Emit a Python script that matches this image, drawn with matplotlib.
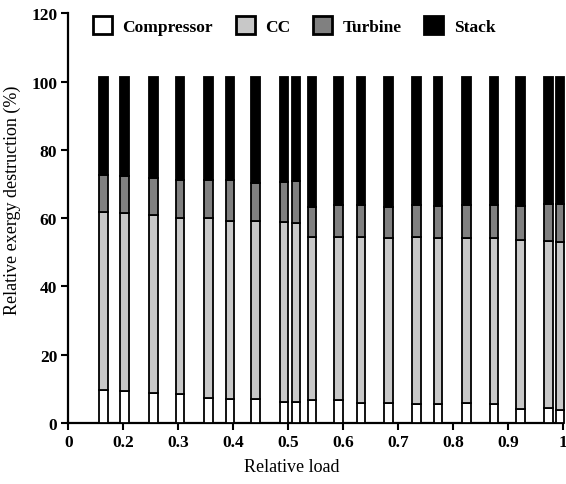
import matplotlib
matplotlib.use("Agg")
import matplotlib.pyplot as plt
from matplotlib.patches import Patch

# relative load of each operating point
loads = [0.164, 0.202, 0.255, 0.303, 0.355, 0.394, 0.440, 0.492, 0.514, 0.5435,
         0.591, 0.632, 0.6825, 0.733, 0.772, 0.824, 0.874, 0.922, 0.973, 0.994]

# relative exergy destruction (%) of each component
compressor = [9.8, 9.5, 8.7, 8.4, 7.2, 7.0, 7.0, 6.2, 6.1, 6.6,
              6.6, 6.0, 5.9, 5.7, 5.7, 5.9, 5.7, 4.0, 4.4, 3.8]
cc = [51.9, 51.9, 52.1, 51.7, 52.9, 52.3, 52.3, 52.8, 52.6, 48.0,
      47.8, 48.6, 48.2, 48.7, 48.4, 48.2, 48.6, 49.6, 49.0, 49.1]
turbine = [11.0, 11.0, 11.0, 11.1, 11.1, 11.9, 11.0, 11.6, 12.2, 8.8,
           9.6, 9.4, 9.3, 9.6, 9.6, 9.9, 9.7, 10.1, 10.9, 11.4]
stack = [28.6, 28.9, 29.5, 30.1, 30.1, 30.1, 31.0, 30.7, 30.4, 37.9,
         37.3, 37.3, 37.9, 37.3, 37.6, 37.3, 37.3, 37.6, 37.0, 37.0]

series = [("Compressor", compressor, "white"),
          ("CC", cc, "#c8c8c8"),
          ("Turbine", turbine, "#808080"),
          ("Stack", stack, "black")]

xticks = [0.1, 0.2, 0.3, 0.4, 0.5, 0.6, 0.7, 0.8, 0.9, 1.0]
xticklabels = ["0", "0.2", "0.3", "0.4", "0.5", "0.6", "0.7", "0.8", "0.9", "1"]
yticks = [0, 20, 40, 60, 80, 100, 120]

plt.rcParams["font.family"] = ["Liberation Serif", "DejaVu Serif"]

fig = plt.figure(figsize=(5.66, 4.85), dpi=100)
ax = fig.add_axes([0.1207, 0.1258, 0.8745, 0.8445])

bottom = [0.0] * len(loads)
handles = []
for name, vals, color in series:
    ax.bar(loads, vals, width=0.0155, bottom=bottom, color=color,
           edgecolor="black", linewidth=1.3, clip_on=False, zorder=3)
    bottom = [b + v for b, v in zip(bottom, vals)]
    handles.append(Patch(facecolor=color, edgecolor="black", linewidth=2, label=name))

ax.set_xlim(0.1, 1.0)
ax.set_ylim(0, 120)
ax.set_xticks(xticks)
ax.set_xticklabels(xticklabels)
ax.set_yticks(yticks)

for side in ["top", "right"]:
    ax.spines[side].set_visible(False)
for side in ["left", "bottom"]:
    ax.spines[side].set_linewidth(1.6)
ax.tick_params(direction="out", length=5, width=1.5, labelsize=12.5, pad=3)
for lab in ax.get_xticklabels() + ax.get_yticklabels():
    lab.set_fontweight("bold")

ax.set_xlabel("Relative load", fontsize=13)
ax.xaxis.set_label_coords(0.452, -0.085)
ax.set_ylabel("Relative exergy destruction (%)", fontsize=13)
ax.yaxis.set_label_coords(-0.095, 0.547)

ax.legend(handles=handles, loc="upper left", ncol=4, frameon=False,
          bbox_to_anchor=(93 / 566, 1 - 17 / 485), bbox_transform=fig.transFigure,
          borderpad=0, borderaxespad=0, handlelength=1.1, handleheight=1.25,
          handletextpad=0.6, columnspacing=1.3,
          prop={"size": 12.5, "weight": "bold"})

fig.savefig("out.png", dpi=100)
